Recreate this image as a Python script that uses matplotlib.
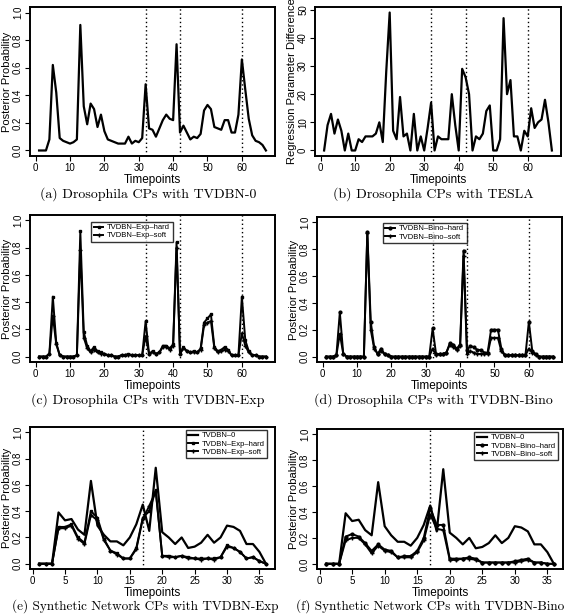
import numpy as np
import matplotlib
matplotlib.use("Agg")
import matplotlib.pyplot as plt

plt.rcParams['font.family'] = ['Liberation Sans', 'DejaVu Sans']

# Drosophila timepoints and changepoints
dros_t = np.arange(1, 68)
dros_cps = [32, 42, 60]

tvdbn0_dros = [0.0, 0.0, 0.0, 0.08, 0.62, 0.42, 0.09, 0.07, 0.06, 0.05,
               0.06, 0.08, 0.91, 0.32, 0.19, 0.34, 0.30, 0.17, 0.26, 0.14,
               0.08, 0.07, 0.06, 0.05, 0.05, 0.05, 0.10, 0.05, 0.07, 0.06,
               0.09, 0.48, 0.16, 0.15, 0.10, 0.16, 0.22, 0.26, 0.23, 0.22,
               0.77, 0.13, 0.18, 0.13, 0.08, 0.10, 0.09, 0.12, 0.29, 0.33,
               0.30, 0.17, 0.16, 0.15, 0.22, 0.22, 0.13, 0.13, 0.26, 0.66,
               0.44, 0.23, 0.11, 0.07, 0.06, 0.04, 0.0]

tesla_dros = [0, 9, 13, 6, 11, 7, 0, 6, 0, 0,
              4, 3, 5, 5, 5, 6, 10, 3, 28, 49,
              7, 4, 19, 5, 6, 0, 13, 0, 5, 0,
              8, 17, 0, 5, 4, 4, 4, 20, 9, 0,
              29, 26, 20, 0, 5, 4, 6, 14, 16, 0,
              0, 4, 47, 20, 25, 5, 5, 0, 7, 5,
              15, 8, 10, 11, 18, 10, 0]

exp_hard_dros = [0.0, 0.0, 0.0, 0.02, 0.44, 0.10, 0.01, 0.0, 0.0, 0.0,
                 0.0, 0.01, 0.92, 0.18, 0.08, 0.04, 0.07, 0.04, 0.03, 0.02,
                 0.01, 0.01, 0.0, 0.0, 0.01, 0.01, 0.02, 0.01, 0.01, 0.01,
                 0.01, 0.26, 0.02, 0.04, 0.02, 0.03, 0.08, 0.08, 0.06, 0.09,
                 0.84, 0.02, 0.07, 0.04, 0.03, 0.04, 0.03, 0.06, 0.25, 0.28,
                 0.31, 0.07, 0.04, 0.05, 0.07, 0.05, 0.01, 0.01, 0.01, 0.44,
                 0.12, 0.04, 0.01, 0.01, 0.0, 0.0, 0.0]
exp_soft_dros = [0.0, 0.0, 0.0, 0.02, 0.30, 0.09, 0.01, 0.0, 0.0, 0.0,
                 0.0, 0.01, 0.78, 0.14, 0.06, 0.03, 0.05, 0.03, 0.02, 0.02,
                 0.01, 0.01, 0.0, 0.0, 0.01, 0.01, 0.01, 0.01, 0.01, 0.01,
                 0.01, 0.15, 0.02, 0.03, 0.02, 0.03, 0.07, 0.07, 0.05, 0.08,
                 0.80, 0.02, 0.06, 0.04, 0.03, 0.03, 0.03, 0.05, 0.23, 0.25,
                 0.26, 0.06, 0.03, 0.04, 0.05, 0.04, 0.01, 0.01, 0.01, 0.17,
                 0.08, 0.03, 0.01, 0.01, 0.0, 0.0, 0.0]

bino_hard_dros = [0.0, 0.0, 0.0, 0.01, 0.33, 0.02, 0.0, 0.0, 0.0, 0.0,
                  0.0, 0.0, 0.93, 0.26, 0.07, 0.02, 0.06, 0.02, 0.01, 0.0,
                  0.0, 0.0, 0.0, 0.0, 0.0, 0.0, 0.0, 0.0, 0.0, 0.0,
                  0.0, 0.21, 0.02, 0.02, 0.02, 0.03, 0.10, 0.09, 0.06, 0.09,
                  0.79, 0.05, 0.08, 0.07, 0.05, 0.05, 0.03, 0.03, 0.20, 0.20,
                  0.20, 0.06, 0.01, 0.01, 0.01, 0.01, 0.01, 0.01, 0.01, 0.26,
                  0.04, 0.02, 0.0, 0.0, 0.0, 0.0, 0.0]
bino_soft_dros = [0.0, 0.0, 0.0, 0.01, 0.17, 0.02, 0.0, 0.0, 0.0, 0.0,
                  0.0, 0.0, 0.92, 0.20, 0.06, 0.02, 0.04, 0.02, 0.01, 0.0,
                  0.0, 0.0, 0.0, 0.0, 0.0, 0.0, 0.0, 0.0, 0.0, 0.0,
                  0.0, 0.06, 0.01, 0.02, 0.02, 0.03, 0.09, 0.07, 0.05, 0.08,
                  0.75, 0.02, 0.04, 0.03, 0.02, 0.02, 0.02, 0.02, 0.14, 0.14,
                  0.14, 0.04, 0.01, 0.01, 0.01, 0.01, 0.01, 0.01, 0.01, 0.06,
                  0.03, 0.01, 0.0, 0.0, 0.0, 0.0, 0.0]

# synthetic network
syn_t = np.arange(1, 37)
syn_cps = [17]

tvdbn0_syn = [0.0, 0.0, 0.0, 0.39, 0.33, 0.34, 0.26, 0.22, 0.63, 0.29,
              0.22, 0.17, 0.17, 0.14, 0.20, 0.30, 0.45, 0.25, 0.73, 0.24,
              0.20, 0.15, 0.20, 0.12, 0.13, 0.16, 0.22, 0.16, 0.20, 0.29,
              0.28, 0.25, 0.15, 0.15, 0.09, 0.0]
exp_hard_syn = [0.0, 0.0, 0.0, 0.28, 0.28, 0.30, 0.20, 0.16, 0.40, 0.35,
                0.19, 0.10, 0.08, 0.04, 0.04, 0.12, 0.35, 0.40, 0.56, 0.06,
                0.06, 0.05, 0.06, 0.05, 0.04, 0.04, 0.04, 0.04, 0.05, 0.14,
                0.12, 0.09, 0.04, 0.05, 0.02, 0.0]
exp_soft_syn = [0.0, 0.0, 0.0, 0.27, 0.27, 0.29, 0.19, 0.15, 0.37, 0.33,
                0.18, 0.10, 0.07, 0.04, 0.04, 0.11, 0.34, 0.44, 0.55, 0.06,
                0.05, 0.05, 0.06, 0.04, 0.04, 0.03, 0.04, 0.03, 0.05, 0.13,
                0.12, 0.09, 0.04, 0.05, 0.02, 0.0]
bino_hard_syn = [0.0, 0.0, 0.0, 0.21, 0.23, 0.21, 0.16, 0.10, 0.15, 0.11,
                 0.10, 0.05, 0.06, 0.06, 0.10, 0.20, 0.43, 0.30, 0.30, 0.04,
                 0.04, 0.04, 0.05, 0.04, 0.01, 0.01, 0.01, 0.01, 0.01, 0.02,
                 0.03, 0.04, 0.01, 0.01, 0.0, 0.0]
bino_soft_syn = [0.0, 0.0, 0.0, 0.18, 0.20, 0.20, 0.15, 0.08, 0.14, 0.10,
                 0.09, 0.05, 0.05, 0.05, 0.09, 0.18, 0.38, 0.27, 0.26, 0.03,
                 0.03, 0.04, 0.04, 0.03, 0.01, 0.01, 0.01, 0.01, 0.01, 0.01,
                 0.02, 0.03, 0.01, 0.01, 0.0, 0.0]

W, H = 572, 616
fig = plt.figure(figsize=(W / 100, H / 100), dpi=100)


def make_ax(l, t, r, b):
    return fig.add_axes([l / W, 1 - b / H, (r - l) / W, (b - t) / H])


def yticks_fmt(ticks):
    if max(ticks) <= 1:
        return ["%.1f" % v for v in ticks]
    return ["%d" % v for v in ticks]


def style(ax, x, ymax, yticks, xticks, ylabel):
    pad = (x[-1] - x[0]) * 0.04
    ax.set_xlim(x[0] - pad, x[-1] + pad)
    ax.set_ylim(-0.04 * ymax, 1.04 * ymax)
    ax.set_xticks(xticks)
    ax.set_yticks(yticks)
    ax.set_yticklabels(yticks_fmt(yticks), rotation=90, va='center')
    ax.tick_params(labelsize=7, length=3.5, width=0.8, pad=1.5)
    for s in ax.spines.values():
        s.set_linewidth(1.4)
    ax.set_xlabel("Timepoints", fontsize=8.5, labelpad=0.5)
    ax.set_ylabel(ylabel, fontsize=8, labelpad=1)


def cps(ax, points):
    for c in points:
        ax.axvline(c, color='black', ls=(0, (1, 2)), lw=1)


def caption(xc, y, s, size=10):
    fig.text(xc / W, 1 - y / H, s, ha='center', va='center',
             fontsize=size, family=['cmr10', 'DejaVu Serif'])


prob_ticks = [0.0, 0.2, 0.4, 0.6, 0.8, 1.0]
dros_xt = [0, 10, 20, 30, 40, 50, 60]
syn_xt = [0, 5, 10, 15, 20, 25, 30, 35]
leg_kw = dict(fontsize=5.5, frameon=True, fancybox=False, edgecolor='black',
              handlelength=1.3, borderpad=0.3, labelspacing=0.1,
              handletextpad=0.5, borderaxespad=0)

# (a)
ax = make_ax(30, 7, 275, 156)
ax.plot(dros_t, tvdbn0_dros, color='black', lw=1.6)
cps(ax, dros_cps)
style(ax, dros_t, 1.0, prob_ticks, dros_xt, "Posterior Probability")
caption(148, 194, "(a) Drosophila CPs with TVDBN-0")

# (b)
ax = make_ax(315, 7, 561, 156)
ax.plot(dros_t, tesla_dros, color='black', lw=1.6)
cps(ax, dros_cps)
style(ax, dros_t, 49, [0, 10, 20, 30, 40, 50], dros_xt,
      "Regression Parameter Difference")
caption(433, 194, "(b) Drosophila CPs with TESLA")

# (c)
ax = make_ax(30, 215, 275, 362)
ax.plot(dros_t, exp_hard_dros, color='black', lw=1.4, marker='s', ms=2,
        label="TVDBN\u2013Exp\u2013hard")
ax.plot(dros_t, exp_soft_dros, color='black', lw=1.4, marker='+', ms=3,
        label="TVDBN\u2013Exp\u2013soft")
cps(ax, dros_cps)
style(ax, dros_t, 1.0, prob_ticks, dros_xt, "Posterior Probability")
ax.legend(loc='upper left', bbox_to_anchor=(0.25, 0.955), **leg_kw)
caption(148, 400, "(c) Drosophila CPs with TVDBN-Exp")

# (d)
ax = make_ax(317, 217, 562, 362)
ax.plot(dros_t, bino_hard_dros, color='black', lw=1.4, marker='o', ms=2,
        label="TVDBN\u2013Bino\u2013hard")
ax.plot(dros_t, bino_soft_dros, color='black', lw=1.4, marker='+', ms=3,
        label="TVDBN\u2013Bino\u2013soft")
cps(ax, dros_cps)
style(ax, dros_t, 1.0, prob_ticks, dros_xt, "Posterior Probability")
ax.legend(loc='upper left', bbox_to_anchor=(0.27, 0.96), **leg_kw)
caption(433, 400, "(d) Drosophila CPs with TVDBN-Bino")

# (e)
ax = make_ax(30, 427, 275, 569)
ax.plot(syn_t, tvdbn0_syn, color='black', lw=1.6, label="TVDBN\u20130")
ax.plot(syn_t, exp_hard_syn, color='black', lw=1.4, marker='s', ms=2,
        label="TVDBN\u2013Exp\u2013hard")
ax.plot(syn_t, exp_soft_syn, color='black', lw=1.4, marker='+', ms=3,
        label="TVDBN\u2013Exp\u2013soft")
cps(ax, syn_cps)
style(ax, syn_t, 1.0, prob_ticks, syn_xt, "Posterior Probability")
ax.legend(loc='upper left', bbox_to_anchor=(0.635, 0.98), **leg_kw)
caption(145, 606, "(e) Synthetic Network CPs with TVDBN-Exp", 9.5)

# (f)
ax = make_ax(317, 429, 563, 569)
ax.plot(syn_t, tvdbn0_syn, color='black', lw=1.6, label="TVDBN\u20130")
ax.plot(syn_t, bino_hard_syn, color='black', lw=1.4, marker='o', ms=2,
        label="TVDBN\u2013Bino\u2013hard")
ax.plot(syn_t, bino_soft_syn, color='black', lw=1.4, marker='+', ms=3,
        label="TVDBN\u2013Bino\u2013soft")
cps(ax, syn_cps)
style(ax, syn_t, 1.0, prob_ticks, syn_xt, "Posterior Probability")
ax.legend(loc='upper left', bbox_to_anchor=(0.64, 0.98), **leg_kw)
caption(430, 606, "(f) Synthetic Network CPs with TVDBN-Bino", 9.5)

fig.savefig("out.png", dpi=100)
